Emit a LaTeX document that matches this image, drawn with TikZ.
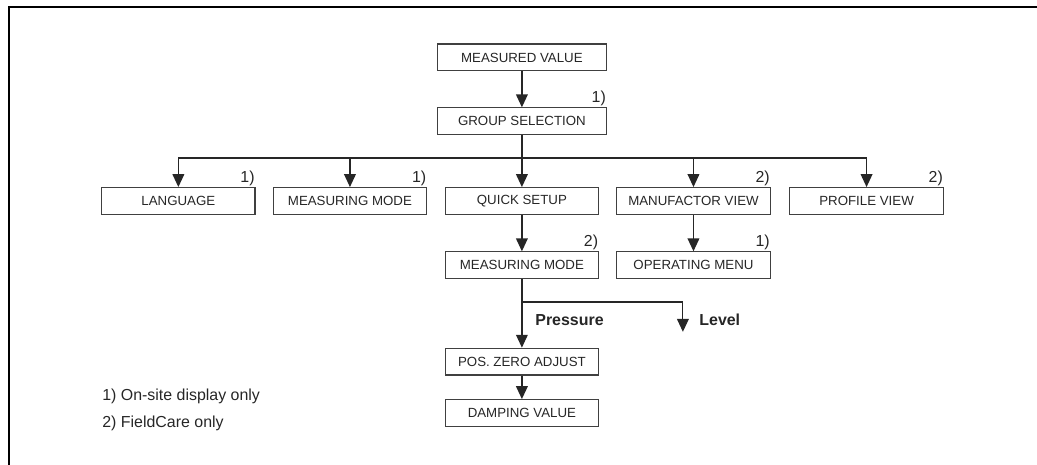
\documentclass[tikz,border=0pt]{standalone}
\usepackage{fontspec}
\setmainfont{Liberation Sans}
\usetikzlibrary{positioning, arrows.meta}

\begin{document}
\begin{tikzpicture}[
  font=\fontsize{10}{12}\selectfont,
  every node/.style={inner sep=2.5pt},
  menubox/.style={
    draw=black!75, line width=0.9pt, rectangle, minimum width=40.6mm,
    minimum height=7.1mm, align=center, text=black!85,
  },
  topbox/.style={menubox, minimum width=44.7mm},
  fnote/.style={anchor=south east, inner sep=0.6pt,
                font=\fontsize{12}{14}\selectfont, text=black!85},
  branchlbl/.style={anchor=west, inner sep=0pt,
                    font=\fontsize{12}{14}\selectfont\bfseries, text=black!85},
  legend/.style={anchor=west, inner sep=0pt,
                 font=\fontsize{12}{14}\selectfont, text=black!85},
  arr/.style={-{Triangle[length=3.4mm,width=3.1mm]}, line width=0.9pt, draw=black!85},
  link/.style={line width=0.9pt, draw=black!85},
]

% ── Page frame (top and left rule only) ────────────────────────────
\useasboundingbox (0,0) rectangle (274.4mm,-123.0mm);
\draw[line width=1.1pt] (274.4mm,-1.85mm) -- (2.4mm,-1.85mm) -- (2.4mm,-123.0mm);

% ── Row y-positions ────────────────────────────────────────────────
\def\rA{-15.2mm}
\def\rB{-32.1mm}
\def\rBus{-41.8mm}
\def\rC{-53.2mm}
\def\rD{-70.2mm}
\def\rFork{-79.9mm}
\def\rE{-95.7mm}
\def\rF{-109.3mm}

% ── Column x-positions ─────────────────────────────────────────────
\def\cA{47.2mm}
\def\cB{92.6mm}
\def\cC{138.1mm}
\def\cD{183.5mm}
\def\cE{229.3mm}

% ── Top of the menu ────────────────────────────────────────────────
\node[topbox] (measured) at (\cC,\rA) {MEASURED VALUE};
\node[topbox] (group)    at (\cC,\rB) {GROUP SELECTION};

% ── Group row ──────────────────────────────────────────────────────
\node[menubox] (language) at (\cA,\rC) {LANGUAGE};
\node[menubox] (mode)     at (\cB,\rC) {MEASURING MODE};
\node[menubox] (quick)    at (\cC,\rC) {QUICK SETUP};
\node[menubox] (manuf)    at (\cD,\rC) {MANUFACTOR VIEW};
\node[menubox] (profile)  at (\cE,\rC) {PROFILE VIEW};

% ── Sub-menus ──────────────────────────────────────────────────────
\node[menubox] (qmode)   at (\cC,\rD) {MEASURING MODE};
\node[menubox] (opmenu)  at (\cD,\rD) {OPERATING MENU};
\node[menubox] (zero)    at (\cC,\rE) {POS. ZERO ADJUST};
\node[menubox] (damping) at (\cC,\rF) {DAMPING VALUE};

% ── Footnote marks ─────────────────────────────────────────────────
\node[fnote] (fnGroup)   at (group.north east)    {1)};
\node[fnote] (fnLang)    at (language.north east) {1)};
\node[fnote] (fnMode)    at (mode.north east)     {1)};
\node[fnote] (fnManuf)   at (manuf.north east)    {2)};
\node[fnote] (fnProfile) at (profile.north east)  {2)};
\node[fnote] (fnQmode)   at (qmode.north east)    {2)};
\node[fnote] (fnOpmenu)  at (opmenu.north east)   {1)};

% ── Main column ────────────────────────────────────────────────────
\draw[arr] (measured) -- (group);
\draw[arr] (group) -- (quick);
\draw[arr] (quick) -- (qmode);
\draw[arr] (manuf) -- (opmenu);
\draw[arr] (qmode) -- (zero);
\draw[arr] (zero) -- (damping);

% ── Fan-out bus under GROUP SELECTION ──────────────────────────────
\coordinate (busLang) at (\cA,\rBus);
\coordinate (busMode) at (\cB,\rBus);
\coordinate (busManuf) at (\cD,\rBus);
\coordinate (busProf) at (\cE,\rBus);
\draw[link] (busLang) -- (busProf);
\draw[arr] (busLang)  -- (language.north);
\draw[arr] (busMode)  -- (mode.north);
\draw[arr] (busManuf) -- (manuf.north);
\draw[arr] (busProf)  -- (profile.north);

% ── Pressure / Level branch ────────────────────────────────────────
\coordinate (fork) at (\cC,\rFork);
\coordinate (levelTop) at (180.7mm,\rFork);
\coordinate (levelEnd) at (180.7mm,-87.8mm);
\draw[link] (fork) -- (levelTop);
\draw[arr] (levelTop) -- (levelEnd);
\node[branchlbl] (pressure) at (141.6mm,-84.7mm) {Pressure};
\node[branchlbl] (level)    at (185.0mm,-84.7mm) {Level};

% ── Legend ─────────────────────────────────────────────────────────
\node[legend] (leg1) at (27.0mm,-104.8mm) {1) On-site display only};
\node[legend] (leg2) at (27.0mm,-111.9mm) {2) FieldCare only};

\end{tikzpicture}
\end{document}
